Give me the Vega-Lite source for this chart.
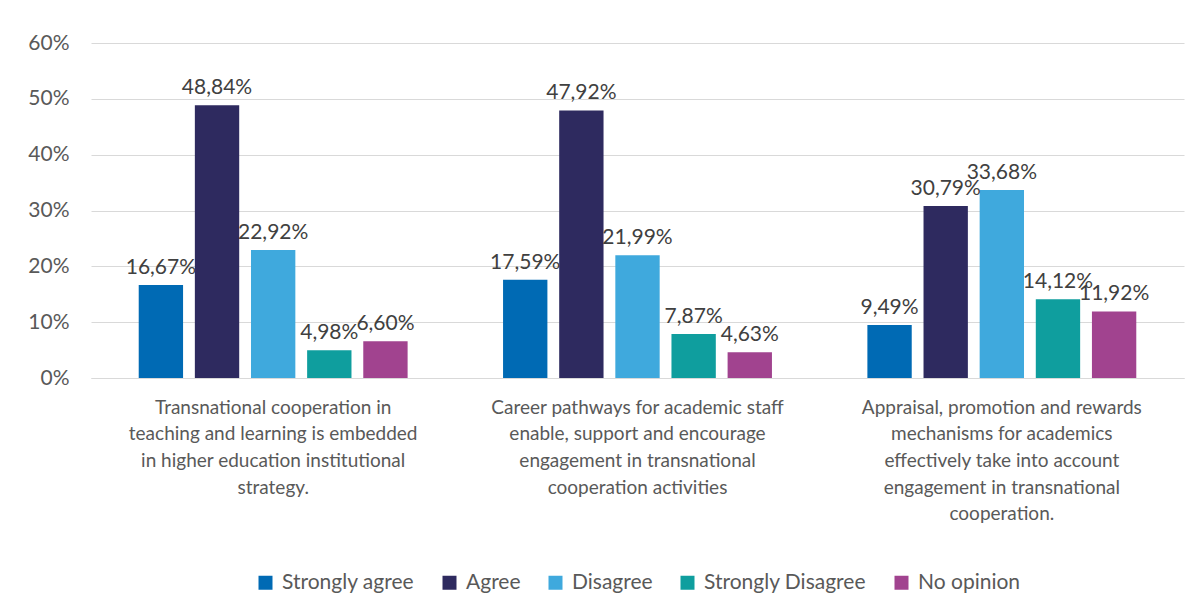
{
  "$schema": "https://vega.github.io/schema/vega-lite/v6.json",
  "width": 1093,
  "height": 335,
  "autosize": {"type": "none"},
  "padding": {"left": 91, "top": 43, "right": 18, "bottom": 232},
  "background": "white",
  "config": {
    "locale": {"number": {"decimal": ",", "thousands": ".", "grouping": [3], "currency": ["", " €"]}},
    "font": "Lato",
    "view": {"stroke": null},
    "axis": {"labelFont": "Lato", "labelColor": "#595959", "labelFontSize": 21},
    "legend": {"layout": {"bottom": {"anchor": "middle"}}}
  },
  "data": {
    "values": [
      {"cat": "A", "series": "Strongly agree", "value": 0.1667},
      {"cat": "A", "series": "Agree", "value": 0.4884},
      {"cat": "A", "series": "Disagree", "value": 0.2292},
      {"cat": "A", "series": "Strongly Disagree", "value": 0.0498},
      {"cat": "A", "series": "No opinion", "value": 0.066},
      {"cat": "B", "series": "Strongly agree", "value": 0.1759},
      {"cat": "B", "series": "Agree", "value": 0.4792},
      {"cat": "B", "series": "Disagree", "value": 0.2199},
      {"cat": "B", "series": "Strongly Disagree", "value": 0.0787},
      {"cat": "B", "series": "No opinion", "value": 0.0463},
      {"cat": "C", "series": "Strongly agree", "value": 0.0949},
      {"cat": "C", "series": "Agree", "value": 0.3079},
      {"cat": "C", "series": "Disagree", "value": 0.3368},
      {"cat": "C", "series": "Strongly Disagree", "value": 0.1412},
      {"cat": "C", "series": "No opinion", "value": 0.1192}
    ]
  },
  "encoding": {
    "x": {
      "field": "cat",
      "type": "nominal",
      "scale": {"paddingInner": 0, "paddingOuter": 0},
      "axis": {
        "title": null,
        "labelAngle": 0,
        "ticks": false,
        "domainColor": "#d9d9d9",
        "domainWidth": 1,
        "labelPadding": 20,
        "labelLineHeight": 26.7,
        "labelBaseline": "top",
        "labelLimit": 0,
        "labelFontSize": 19,
        "labelExpr": "datum.value == 'A' ? ['Transnational cooperation in', 'teaching and learning is embedded', 'in higher education institutional', 'strategy.'] : datum.value == 'B' ? ['Career pathways for academic staff', 'enable, support and encourage', 'engagement in transnational', 'cooperation activities'] : ['Appraisal, promotion and rewards', 'mechanisms for academics', 'effectively take into account', 'engagement in transnational', 'cooperation.']"
      }
    },
    "xOffset": {
      "field": "series",
      "type": "nominal",
      "sort": ["Strongly agree", "Agree", "Disagree", "Strongly Disagree", "No opinion"],
      "scale": {"paddingInner": 0.21, "paddingOuter": 0.85}
    },
    "y": {
      "field": "value",
      "type": "quantitative",
      "scale": {"domain": [0, 0.6]},
      "axis": {
        "title": null,
        "format": ".0%",
        "values": [0, 0.1, 0.2, 0.3, 0.4, 0.5, 0.6],
        "labelOverlap": false,
        "domain": false,
        "ticks": false,
        "labelPadding": 22,
        "gridColor": "#d9d9d9",
        "gridWidth": 1
      }
    }
  },
  "layer": [
    {
      "mark": {"type": "bar"},
      "encoding": {
        "color": {
          "field": "series",
          "type": "nominal",
          "sort": ["Strongly agree", "Agree", "Disagree", "Strongly Disagree", "No opinion"],
          "scale": {
            "domain": ["Strongly agree", "Agree", "Disagree", "Strongly Disagree", "No opinion"],
            "range": ["#006AB4", "#2E2A5F", "#3FA9DD", "#0F9E9E", "#A1438F"]
          },
          "legend": {
            "title": null,
            "orient": "bottom",
            "direction": "horizontal",
            "symbolType": "square",
            "symbolSize": 196,
            "symbolStrokeWidth": 0,
            "labelFont": "Lato",
            "labelFontSize": 21,
            "labelColor": "#595959",
            "labelOffset": 6,
            "labelLimit": 0,
            "columnPadding": 24,
            "offset": 48
          }
        }
      }
    },
    {
      "mark": {"type": "text", "baseline": "bottom", "dy": -7, "fontSize": 21, "color": "#404040", "font": "Lato"},
      "encoding": {
        "text": {"field": "value", "type": "quantitative", "format": ".2%"}
      }
    }
  ]
}
